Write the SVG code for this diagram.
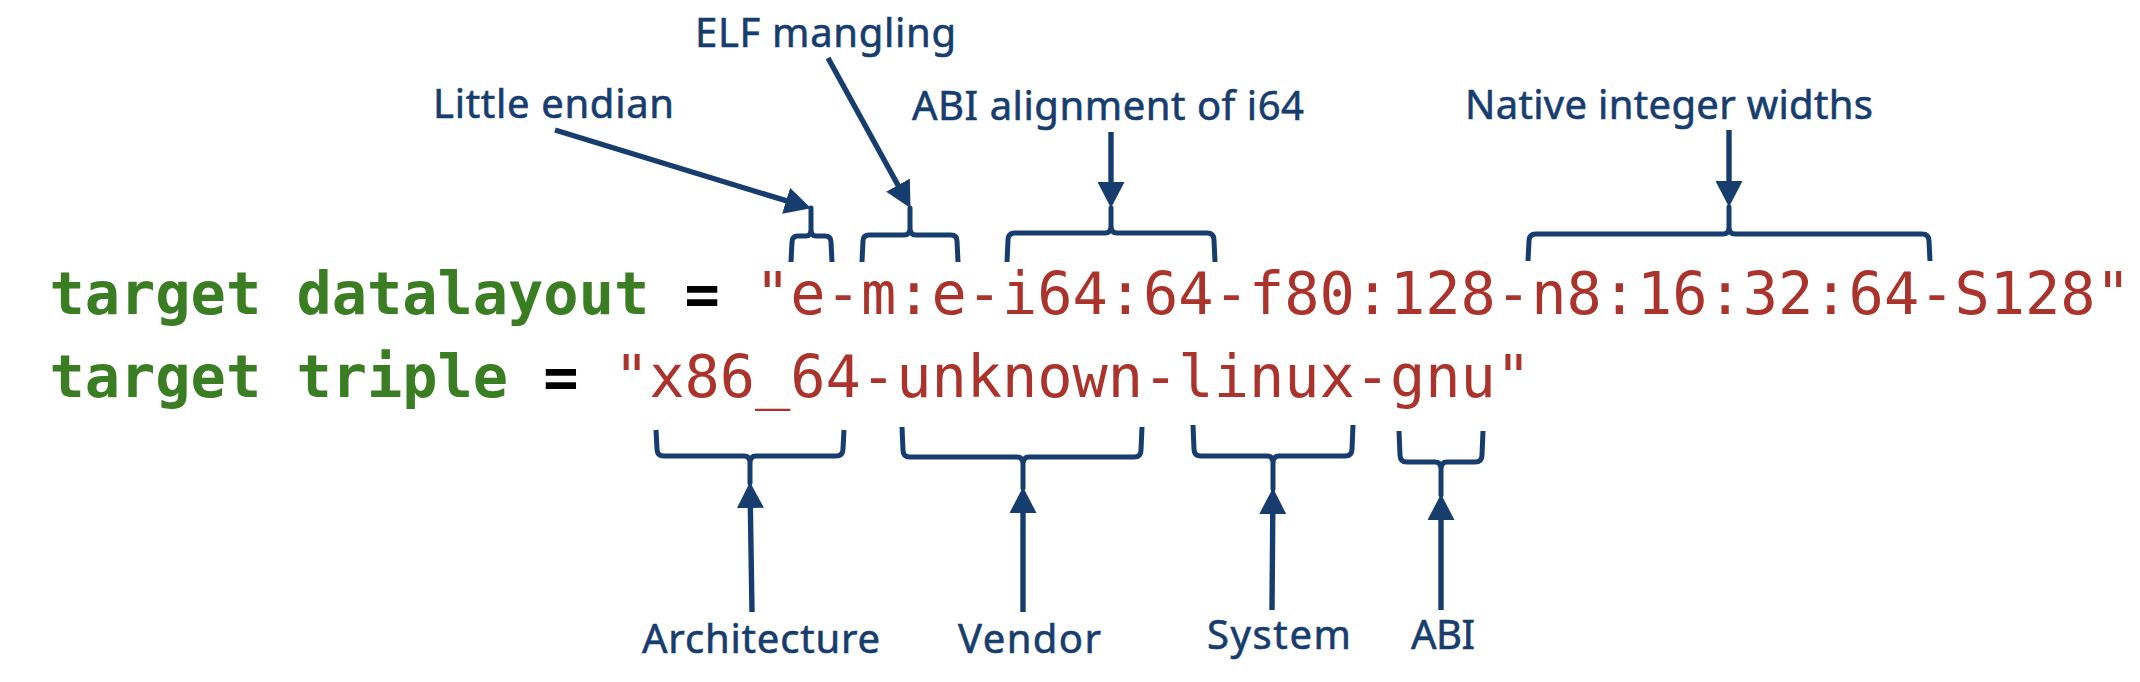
<svg xmlns="http://www.w3.org/2000/svg" width="2140" height="682" viewBox="0 0 2140 682">
<style>
.code{font-family:"DejaVu Sans Mono","Liberation Mono",monospace;font-size:58.6px}
.kw{fill:#3a7d23;font-weight:bold}
.op{fill:#000000;font-weight:bold}
.str{fill:#aa332c;font-weight:normal}
.lbl{font-family:"Noto Sans","Open Sans","Liberation Sans",sans-serif;font-size:40px;fill:#173d6e;stroke:#173d6e;stroke-width:0.6}
.br{fill:none;stroke:#173d6e;stroke-width:5;stroke-linejoin:round;stroke-linecap:butt}
.ar{fill:none;stroke:#173d6e;stroke-width:5.4}
</style>
<defs>
<marker id="ah" viewBox="0 0 26 27" refX="5" refY="13.5" markerWidth="26" markerHeight="27" markerUnits="userSpaceOnUse" orient="auto">
<path d="M0,0 L26,13.5 L0,27 Z" fill="#173d6e"/>
</marker>
</defs>
<rect x="0" y="0" width="2140" height="682" fill="#ffffff"/>

<g id="code-datalayout">
<text class="code" x="49.5" y="314" xml:space="preserve"><tspan class="kw">target datalayout</tspan><tspan class="op"> = </tspan><tspan class="str">"e-m:e-i64:64-f80:128-n8:16:32:64-S128"</tspan></text>
</g>
<g id="code-triple">
<text class="code" x="49.5" y="396.5" xml:space="preserve"><tspan class="kw">target triple</tspan><tspan class="op"> = </tspan><tspan class="str">"x86_64-unknown-linux-gnu"</tspan></text>
</g>

<g id="label-little-endian">
<text class="lbl" x="433" y="118" textLength="241" lengthAdjust="spacing">Little endian</text>
<path class="br" d="M791,262 L792,242 Q792,236 798,236 L806,236 Q811,236 811,229 L811,208 L811,229 Q811,236 816,236 L825,236 Q831,236 831,242 L832,262"/>
</g>
<g id="label-elf-mangling">
<text class="lbl" x="695" y="47" textLength="261" lengthAdjust="spacing">ELF mangling</text>
<path class="br" d="M862,262 L863,241 Q863,235 869,235 L904,235 Q910,235 910,228 L910,208 L910,228 Q910,235 916,235 L951,235 Q957,235 957,241 L958,262"/>
</g>
<g id="label-abi-alignment">
<text class="lbl" x="912" y="120" textLength="392" lengthAdjust="spacing">ABI alignment of i64</text>
<path class="br" d="M1007,262 L1008,240 Q1008,233 1015,233 L1105,233 Q1111,233 1111,226 L1111,208 L1111,226 Q1111,233 1117,233 L1207,233 Q1214,233 1214,240 L1215,262"/>
</g>
<g id="label-native-widths">
<text class="lbl" x="1465" y="119" textLength="408" lengthAdjust="spacing">Native integer widths</text>
<path class="br" d="M1528,261 L1529,241 Q1529,234 1536,234 L1723,234 Q1729,234 1729,227 L1729,207 L1729,227 Q1729,234 1735,234 L1922,234 Q1929,234 1929,241 L1930,261"/>
</g>

<g id="label-architecture">
<text class="lbl" x="642" y="653" textLength="238" lengthAdjust="spacing">Architecture</text>
<path class="br" d="M656,430 L657,449 Q657,456 664,456 L744,456 Q750,456 750,463 L750,483 L750,463 Q750,456 756,456 L836,456 Q843,456 843,449 L844,430"/>
</g>
<g id="label-vendor">
<text class="lbl" x="958" y="653" textLength="143" lengthAdjust="spacing">Vendor</text>
<path class="br" d="M902,427 L903,450 Q903,457 910,457 L1017,457 Q1023,457 1023,464 L1023,488 L1023,464 Q1023,457 1029,457 L1134,457 Q1141,457 1141,450 L1142,427"/>
</g>
<g id="label-system">
<text class="lbl" x="1207" y="649" textLength="144" lengthAdjust="spacing">System</text>
<path class="br" d="M1193,425 L1194,449 Q1194,456 1201,456 L1267,456 Q1273,456 1273,463 L1273,489 L1273,463 Q1273,456 1279,456 L1345,456 Q1352,456 1352,449 L1353,425"/>
</g>
<g id="label-abi">
<text class="lbl" x="1411" y="649" textLength="64" lengthAdjust="spacing">ABI</text>
<path class="br" d="M1399,431 L1400,455 Q1400,462 1407,462 L1435,462 Q1441,462 1441,469 L1441,495 L1441,469 Q1441,462 1447,462 L1475,462 Q1482,462 1482,455 L1483,431"/>
</g>

<g id="connectors">
<line class="ar" x1="555" y1="130" x2="790.9" y2="202.2" marker-end="url(#ah)"/>
<line class="ar" x1="828" y1="58" x2="900.4" y2="189.5" marker-end="url(#ah)"/>
<line class="ar" x1="1111" y1="132" x2="1111" y2="187" marker-end="url(#ah)"/>
<line class="ar" x1="1729" y1="130" x2="1729" y2="186" marker-end="url(#ah)"/>
<line class="ar" x1="752" y1="612" x2="750.3" y2="503" marker-end="url(#ah)"/>
<line class="ar" x1="1023" y1="612" x2="1023" y2="508" marker-end="url(#ah)"/>
<line class="ar" x1="1272" y1="610" x2="1272.8" y2="509" marker-end="url(#ah)"/>
<line class="ar" x1="1441" y1="610" x2="1441" y2="515" marker-end="url(#ah)"/>
</g>
</svg>
